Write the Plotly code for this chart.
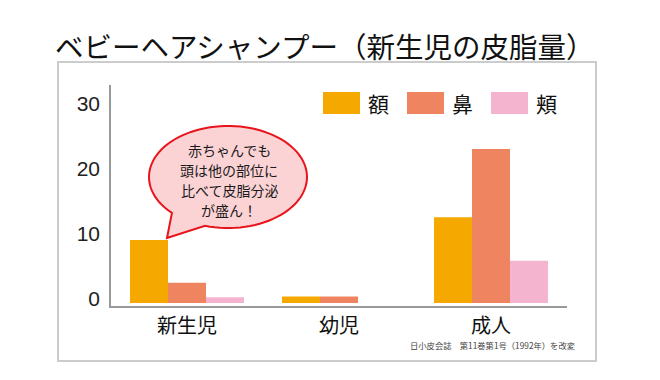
import math
import plotly.graph_objects as go

# ---- data ----
categories = ["新生児", "幼児", "成人"]
series_names = ["額", "鼻", "頬"]
forehead = [9.7, 1.0, 13.2]
nose = [3.1, 1.0, 23.7]
cheek = [0.9, 0.0, 6.5]
y_tickvals = [0, 10, 20, 30]
y_ticktext = ["0", "10", "20", "30"]
title_text = "ベビーヘアシャンプー（新生児の皮脂量）"
bubble_lines = ["赤ちゃんでも", "頭は他の部位に", "比べて皮脂分泌", "が盛ん！"]
source_text = "日小皮会誌　第11巻第1号（1992年）を改変"

colors = ["#F5A800", "#EF8560", "#F4B4CF"]
values = [forehead, nose, cheek]

W, H = 660, 380
L, R, T, B = 111, 567, 85, 306
CJK = "Noto Sans CJK JP"


def px(x):
    return (x - L) / (R - L)


def py(y):
    return (B - y) / (B - T)


fig = go.Figure()
for name, vals, col in zip(series_names, values, colors):
    fig.add_trace(go.Bar(
        x=categories, y=vals, name=name,
        marker=dict(color=col, line=dict(width=0)),
        showlegend=False,
    ))

shapes = []
annotations = []

# outer box
shapes.append(dict(type="rect", xref="paper", yref="paper",
                   x0=px(58), x1=px(596), y0=py(361), y1=py(62),
                   line=dict(color="#CCCCCC", width=2), fillcolor="rgba(0,0,0,0)",
                   layer="below"))

# title
annotations.append(dict(text=title_text, xref="paper", yref="paper",
                        x=px(53), y=py(46), xanchor="left", yanchor="middle",
                        showarrow=False,
                        font=dict(family=CJK, size=28.5, color="#111111")))

# custom legend
leg_sw_x = [323, 407, 491]
for name, col, sx in zip(series_names, colors, leg_sw_x):
    shapes.append(dict(type="rect", xref="paper", yref="paper",
                       x0=px(sx), x1=px(sx + 37), y0=py(114), y1=py(92),
                       line=dict(width=0), fillcolor=col))
    annotations.append(dict(text=name, xref="paper", yref="paper",
                            x=px(sx + 43), y=py(103), xanchor="left", yanchor="middle",
                            showarrow=False,
                            font=dict(family=CJK, size=21, color="#111111")))

# speech bubble
cx, cy, rx, ry = 228, 177, 79, 51
tip = (167, 238)
a_start = math.radians(135.2)
a_end = math.radians(106.9 + 360)
n = 90
pts = []
for i in range(n + 1):
    a = a_start + (a_end - a_start) * i / n
    pts.append((cx + rx * math.cos(a), cy + ry * math.sin(a)))
pts.append(tip)
path = "M " + " L ".join(f"{px(x):.5f},{py(y):.5f}" for x, y in pts) + " Z"
shapes.append(dict(type="path", xref="paper", yref="paper", path=path,
                   fillcolor="#FCD3D5", line=dict(color="#E8141B", width=2)))

line_ys = [150, 170, 190, 210]
for txt, ly in zip(bubble_lines, line_ys):
    annotations.append(dict(text=txt, xref="paper", yref="paper",
                            x=px(229), y=py(ly), xanchor="center", yanchor="middle",
                            showarrow=False, borderpad=0,
                            font=dict(family=CJK, size=14, color="#1A1A1A")))

# source note
annotations.append(dict(text=source_text, xref="paper", yref="paper",
                        x=px(577), y=py(345), xanchor="right", yanchor="middle",
                        showarrow=False,
                        font=dict(family=CJK, size=8.3, color="#444444")))

fig.update_layout(
    width=W, height=H,
    margin=dict(l=L, r=W - R, t=T, b=H - B, pad=0),
    paper_bgcolor="white", plot_bgcolor="white",
    barmode="group", bargap=0.25, bargroupgap=0,
    shapes=shapes, annotations=annotations,
    showlegend=False,
    xaxis=dict(showline=True, linecolor="#999999", linewidth=1.5,
               showgrid=False, ticks="", range=[-0.5, 2.5],
               tickfont=dict(family=CJK, size=20, color="#111111"),
               ticklabelstandoff=1),
    yaxis=dict(showline=True, linecolor="#999999", linewidth=1.5,
               showgrid=False, zeroline=False, ticks="",
               range=[-0.46, 33.54], tickvals=y_tickvals, ticktext=y_ticktext,
               tickfont=dict(family="Liberation Sans, Arial", size=21, color="#222222"),
               ticklabelstandoff=5, ticklabelshift=-4),
)

fig.write_html("out.html", config={"displayModeBar": False},
               post_script="document.body.style.margin='0';")
